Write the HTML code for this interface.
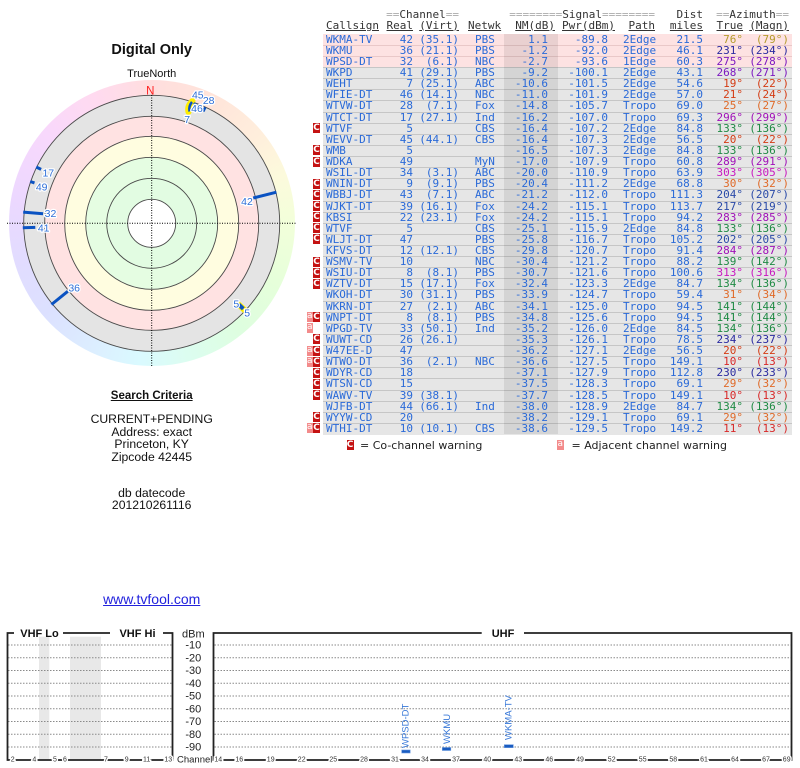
<!DOCTYPE html>
<html><head><meta charset="utf-8"><style>
*{box-sizing:border-box}
body{margin:0;width:800px;height:768px;position:relative;overflow:hidden;background:#fff;font-family:"Liberation Sans",Arial,sans-serif;color:#111}
.h{position:absolute;left:0;width:800px;height:11.12px;font:11px/11.12px "DejaVu Sans Mono",monospace;color:#333;white-space:pre}
.h span{position:absolute;top:0}
.h .q{color:#aaa;position:static}
.u span{text-decoration:underline}
.r{position:absolute;left:0;width:800px;height:11.12px;font:11px/11.12px "DejaVu Sans Mono",monospace;white-space:pre}
.r::before{content:"";position:absolute;left:323px;width:469px;top:0;height:100%;background:#e6e6e6;border-top:1px solid #c6c6c6}
.r.p::before{background:#fde2e2;border-top-color:#e9c8c8}
.r.f::before{border-top:0}
.r span{position:absolute;top:0;color:#2a6ad8;z-index:2}
.r span.z{color:inherit}
.k{left:326px}.re{right:387px}.v{right:341px}.n{left:475px}.nm{right:252px}.pw{right:192px}.pa{left:623px}.d{right:97px}.z1{right:57px}.z2{right:11px}
.r span.mc,.lg.mc{left:313px;top:.5px;width:7px;height:10px;background:#c41212;color:#fff;font:bold 9px/10px "DejaVu Sans",sans-serif;text-align:center}
.r span.ma,.lg.ma{left:306.5px;top:.5px;width:6.5px;height:10px;background:#f38b8b;color:#fff;font:9px/9px "DejaVu Sans",sans-serif;text-align:center}
.band{position:absolute;left:504px;top:33.7px;width:54px;height:400.4px;background:rgba(0,0,0,.08);z-index:1}
.o{color:#b49c2c}.nv{color:#2a2aa0}.bl{color:#2a4aa8}.pu{color:#7c18c0}.vi{color:#a010b8}.mg{color:#c818c0}.rd{color:#d82828}.ro{color:#d43c14}.or{color:#e06a28}.gr{color:#1f8a44}
.c{position:absolute;left:0;width:303.4px;text-align:center;white-space:nowrap}
.lg{position:absolute;display:block}
.lt{position:absolute;font:11px/11px "DejaVu Sans",sans-serif;color:#222;white-space:nowrap}
</style></head><body>

<!-- LEFT PANEL -->
<div class="c" style="top:42.9px;font:bold 14.5px/14.5px 'Liberation Sans',sans-serif">Digital Only</div>
<div class="c" style="top:68.8px;font:11px/11px 'Liberation Sans',sans-serif">TrueNorth</div>
<div style="position:absolute;left:8.7px;top:80.3px;width:286px;height:286px;border-radius:50%;background:conic-gradient(#ffdede 0deg,#ffe4da 25deg,#ffeedc 50deg,#fcfadc 70deg,#f2ffda 90deg,#e6ffda 115deg,#defedf 140deg,#dcfdf0 165deg,#dafaff 185deg,#dceeff 205deg,#dce0ff 230deg,#e2dcff 255deg,#ecd8ff 280deg,#f8d8fc 310deg,#ffdaf0 335deg,#ffdede 360deg)"></div>
<svg style="position:absolute;left:0;top:0" width="300" height="380" viewBox="0 0 300 380">
<g stroke="#4a4a4a" stroke-width="0.9">
<circle cx="151.7" cy="223.3" r="128" fill="#e4e4e4"/>
<circle cx="151.7" cy="223.3" r="107" fill="#ffe2e2"/>
<circle cx="151.7" cy="223.3" r="87" fill="#fffde0"/>
<circle cx="151.7" cy="223.3" r="66" fill="#e5fde2"/>
<circle cx="151.7" cy="223.3" r="45" fill="#e2fce2"/>
<circle cx="151.7" cy="223.3" r="24" fill="#fff"/>
</g>
<g stroke="#000" stroke-width="1" stroke-dasharray="1 1.5">
<line x1="7" y1="223.3" x2="296" y2="223.3"/>
<line x1="151.7" y1="95" x2="151.7" y2="367"/>
</g>
<text x="150.3" y="94.5" font-size="11.5" fill="#ff2020" text-anchor="middle" font-family="Liberation Sans">N</text>
<g stroke="#ffee00" stroke-width="6" stroke-linecap="round" fill="none">
<path d="M192.5,101 Q187,106 188.5,112"/>
<line x1="238.7" y1="304.5" x2="244.3" y2="309.8"/>
</g>
<g stroke="#0a52c2" stroke-width="3" fill="none">
<line x1="253.2" y1="198" x2="276.4" y2="192.2"/>
<line x1="67.8" y1="291.3" x2="51.5" y2="304.5"/>
<line x1="43.1" y1="213.8" x2="23.2" y2="212.1"/>
<line x1="35.3" y1="227.4" x2="22.8" y2="227.8"/>
<line x1="41.1" y1="169.4" x2="36.2" y2="167"/>
<line x1="34.5" y1="182.9" x2="30.2" y2="181.5"/>
<path d="M192,102 Q188.5,106 189.5,111.5" stroke-width="2.5"/>
<line x1="194.3" y1="104.9" x2="195.5" y2="103"/>
<line x1="194.6" y1="110" x2="196.6" y2="104.5" stroke-width="2"/>
<line x1="203.3" y1="111.5" x2="205.3" y2="107.3" stroke-width="2.5"/>
<line x1="238.7" y1="304.5" x2="243.3" y2="308.8" stroke-width="4"/>
</g>
<g font-family="Liberation Sans" font-size="10.5" fill="#2e6fd8" text-anchor="middle" stroke="#fff" stroke-width="2.5" paint-order="stroke" stroke-linejoin="round">
<text x="247" y="204.8">42</text>
<text x="74.2" y="291.3">36</text>
<text x="50.5" y="217.1">32</text>
<text x="43.7" y="231.3">41</text>
<text x="48.3" y="176.3">17</text>
<text x="41.7" y="190.3">49</text>
<text x="197.8" y="98.5">45</text>
<text x="208.7" y="103.8">28</text>
<text x="197" y="112.1">46</text>
<text x="187.2" y="123">7</text>
<text x="236.3" y="307.6">5</text>
<text x="247.2" y="316.6">5</text>
</g>
</svg>

<div class="c" style="top:391.4px;font:bold 11.5px/11.5px 'Liberation Sans',sans-serif;text-decoration:underline">Search Criteria</div>
<div class="c" style="top:413.4px;font:12.2px/12.4px 'Liberation Sans',sans-serif">CURRENT+PENDING<br>Address: exact<br>Princeton, KY<br>Zipcode 42445</div>
<div class="c" style="top:488px;font:12.2px/11.6px 'Liberation Sans',sans-serif">db datecode<br>201210261116</div>
<div class="c" style="top:591.6px;font:14px/14px 'Liberation Sans',sans-serif;color:#2222dd;text-decoration:underline">www.tvfool.com</div>

<!-- TABLE HEADER -->
<div class="h" style="top:9px"><span style="right:341px"><span class="q">==</span>Channel<span class="q">==</span></span><span style="right:145px"><span class="q">========</span>Signal<span class="q">========</span></span><span style="right:97px">Dist</span><span style="right:11px"><span class="q">==</span>Azimuth<span class="q">==</span></span></div>
<div class="h u" style="top:19.6px"><span style="left:326px">Callsign</span><span style="right:387px">Real</span><span style="right:341px">(Virt)</span><span style="left:468px">Netwk</span><span style="right:245px">NM(dB)</span><span style="right:185px">Pwr(dBm)</span><span style="right:145px">Path</span><span style="right:97px">miles</span><span style="right:57px">True</span><span style="right:11px">(Magn)</span></div>

<!-- ROWS -->
<div class="r p f o" style="top:33.7px"><span class="k">WKMA-TV</span><span class="re">42</span><span class="v">(35.1)</span><span class="n">PBS</span><span class="nm">1.1</span><span class="pw">-89.8</span><span class="pa">2Edge</span><span class="d">21.5</span><span class="z z1">76°</span><span class="z z2">(79°)</span></div>
<div class="r p nv" style="top:44.82px"><span class="k">WKMU</span><span class="re">36</span><span class="v">(21.1)</span><span class="n">PBS</span><span class="nm">-1.2</span><span class="pw">-92.0</span><span class="pa">2Edge</span><span class="d">46.1</span><span class="z z1">231°</span><span class="z z2">(234°)</span></div>
<div class="r p pu" style="top:55.94px"><span class="k">WPSD-DT</span><span class="re">32</span><span class="v">(6.1)</span><span class="n">NBC</span><span class="nm">-2.7</span><span class="pw">-93.6</span><span class="pa">1Edge</span><span class="d">60.3</span><span class="z z1">275°</span><span class="z z2">(278°)</span></div>
<div class="r pu" style="top:67.06px"><span class="k">WKPD</span><span class="re">41</span><span class="v">(29.1)</span><span class="n">PBS</span><span class="nm">-9.2</span><span class="pw">-100.1</span><span class="pa">2Edge</span><span class="d">43.1</span><span class="z z1">268°</span><span class="z z2">(271°)</span></div>
<div class="r ro" style="top:78.18px"><span class="k">WEHT</span><span class="re">7</span><span class="v">(25.1)</span><span class="n">ABC</span><span class="nm">-10.6</span><span class="pw">-101.5</span><span class="pa">2Edge</span><span class="d">54.6</span><span class="z z1">19°</span><span class="z z2">(22°)</span></div>
<div class="r ro" style="top:89.3px"><span class="k">WFIE-DT</span><span class="re">46</span><span class="v">(14.1)</span><span class="n">NBC</span><span class="nm">-11.0</span><span class="pw">-101.9</span><span class="pa">2Edge</span><span class="d">57.0</span><span class="z z1">21°</span><span class="z z2">(24°)</span></div>
<div class="r or" style="top:100.42px"><span class="k">WTVW-DT</span><span class="re">28</span><span class="v">(7.1)</span><span class="n">Fox</span><span class="nm">-14.8</span><span class="pw">-105.7</span><span class="pa">Tropo</span><span class="d">69.0</span><span class="z z1">25°</span><span class="z z2">(27°)</span></div>
<div class="r vi" style="top:111.54px"><span class="k">WTCT-DT</span><span class="re">17</span><span class="v">(27.1)</span><span class="n">Ind</span><span class="nm">-16.2</span><span class="pw">-107.0</span><span class="pa">Tropo</span><span class="d">69.3</span><span class="z z1">296°</span><span class="z z2">(299°)</span></div>
<div class="r gr" style="top:122.66px"><span class="mc">C</span><span class="k">WTVF</span><span class="re">5</span><span class="n">CBS</span><span class="nm">-16.4</span><span class="pw">-107.2</span><span class="pa">2Edge</span><span class="d">84.8</span><span class="z z1">133°</span><span class="z z2">(136°)</span></div>
<div class="r ro" style="top:133.78px"><span class="k">WEVV-DT</span><span class="re">45</span><span class="v">(44.1)</span><span class="n">CBS</span><span class="nm">-16.4</span><span class="pw">-107.3</span><span class="pa">2Edge</span><span class="d">56.5</span><span class="z z1">20°</span><span class="z z2">(22°)</span></div>
<div class="r gr" style="top:144.9px"><span class="mc">C</span><span class="k">WMB</span><span class="re">5</span><span class="nm">-16.5</span><span class="pw">-107.3</span><span class="pa">2Edge</span><span class="d">84.8</span><span class="z z1">133°</span><span class="z z2">(136°)</span></div>
<div class="r vi" style="top:156.02px"><span class="mc">C</span><span class="k">WDKA</span><span class="re">49</span><span class="n">MyN</span><span class="nm">-17.0</span><span class="pw">-107.9</span><span class="pa">Tropo</span><span class="d">60.8</span><span class="z z1">289°</span><span class="z z2">(291°)</span></div>
<div class="r mg" style="top:167.14px"><span class="k">WSIL-DT</span><span class="re">34</span><span class="v">(3.1)</span><span class="n">ABC</span><span class="nm">-20.0</span><span class="pw">-110.9</span><span class="pa">Tropo</span><span class="d">63.9</span><span class="z z1">303°</span><span class="z z2">(305°)</span></div>
<div class="r or" style="top:178.26px"><span class="mc">C</span><span class="k">WNIN-DT</span><span class="re">9</span><span class="v">(9.1)</span><span class="n">PBS</span><span class="nm">-20.4</span><span class="pw">-111.2</span><span class="pa">2Edge</span><span class="d">68.8</span><span class="z z1">30°</span><span class="z z2">(32°)</span></div>
<div class="r bl" style="top:189.38px"><span class="mc">C</span><span class="k">WBBJ-DT</span><span class="re">43</span><span class="v">(7.1)</span><span class="n">ABC</span><span class="nm">-21.2</span><span class="pw">-112.0</span><span class="pa">Tropo</span><span class="d">111.3</span><span class="z z1">204°</span><span class="z z2">(207°)</span></div>
<div class="r bl" style="top:200.5px"><span class="mc">C</span><span class="k">WJKT-DT</span><span class="re">39</span><span class="v">(16.1)</span><span class="n">Fox</span><span class="nm">-24.2</span><span class="pw">-115.1</span><span class="pa">Tropo</span><span class="d">113.7</span><span class="z z1">217°</span><span class="z z2">(219°)</span></div>
<div class="r vi" style="top:211.62px"><span class="mc">C</span><span class="k">KBSI</span><span class="re">22</span><span class="v">(23.1)</span><span class="n">Fox</span><span class="nm">-24.2</span><span class="pw">-115.1</span><span class="pa">Tropo</span><span class="d">94.2</span><span class="z z1">283°</span><span class="z z2">(285°)</span></div>
<div class="r gr" style="top:222.74px"><span class="mc">C</span><span class="k">WTVF</span><span class="re">5</span><span class="n">CBS</span><span class="nm">-25.1</span><span class="pw">-115.9</span><span class="pa">2Edge</span><span class="d">84.8</span><span class="z z1">133°</span><span class="z z2">(136°)</span></div>
<div class="r bl" style="top:233.86px"><span class="mc">C</span><span class="k">WLJT-DT</span><span class="re">47</span><span class="n">PBS</span><span class="nm">-25.8</span><span class="pw">-116.7</span><span class="pa">Tropo</span><span class="d">105.2</span><span class="z z1">202°</span><span class="z z2">(205°)</span></div>
<div class="r vi" style="top:244.98px"><span class="k">KFVS-DT</span><span class="re">12</span><span class="v">(12.1)</span><span class="n">CBS</span><span class="nm">-29.8</span><span class="pw">-120.7</span><span class="pa">Tropo</span><span class="d">91.4</span><span class="z z1">284°</span><span class="z z2">(287°)</span></div>
<div class="r gr" style="top:256.1px"><span class="mc">C</span><span class="k">WSMV-TV</span><span class="re">10</span><span class="n">NBC</span><span class="nm">-30.4</span><span class="pw">-121.2</span><span class="pa">Tropo</span><span class="d">88.2</span><span class="z z1">139°</span><span class="z z2">(142°)</span></div>
<div class="r mg" style="top:267.22px"><span class="mc">C</span><span class="k">WSIU-DT</span><span class="re">8</span><span class="v">(8.1)</span><span class="n">PBS</span><span class="nm">-30.7</span><span class="pw">-121.6</span><span class="pa">Tropo</span><span class="d">100.6</span><span class="z z1">313°</span><span class="z z2">(316°)</span></div>
<div class="r gr" style="top:278.34px"><span class="mc">C</span><span class="k">WZTV-DT</span><span class="re">15</span><span class="v">(17.1)</span><span class="n">Fox</span><span class="nm">-32.4</span><span class="pw">-123.3</span><span class="pa">2Edge</span><span class="d">84.7</span><span class="z z1">134°</span><span class="z z2">(136°)</span></div>
<div class="r or" style="top:289.46px"><span class="k">WKOH-DT</span><span class="re">30</span><span class="v">(31.1)</span><span class="n">PBS</span><span class="nm">-33.9</span><span class="pw">-124.7</span><span class="pa">Tropo</span><span class="d">59.4</span><span class="z z1">31°</span><span class="z z2">(34°)</span></div>
<div class="r gr" style="top:300.58px"><span class="k">WKRN-DT</span><span class="re">27</span><span class="v">(2.1)</span><span class="n">ABC</span><span class="nm">-34.1</span><span class="pw">-125.0</span><span class="pa">Tropo</span><span class="d">94.5</span><span class="z z1">141°</span><span class="z z2">(144°)</span></div>
<div class="r gr" style="top:311.7px"><span class="ma">a</span><span class="mc">C</span><span class="k">WNPT-DT</span><span class="re">8</span><span class="v">(8.1)</span><span class="n">PBS</span><span class="nm">-34.8</span><span class="pw">-125.6</span><span class="pa">Tropo</span><span class="d">94.5</span><span class="z z1">141°</span><span class="z z2">(144°)</span></div>
<div class="r gr" style="top:322.82px"><span class="ma">a</span><span class="k">WPGD-TV</span><span class="re">33</span><span class="v">(50.1)</span><span class="n">Ind</span><span class="nm">-35.2</span><span class="pw">-126.0</span><span class="pa">2Edge</span><span class="d">84.5</span><span class="z z1">134°</span><span class="z z2">(136°)</span></div>
<div class="r nv" style="top:333.94px"><span class="mc">C</span><span class="k">WUWT-CD</span><span class="re">26</span><span class="v">(26.1)</span><span class="nm">-35.3</span><span class="pw">-126.1</span><span class="pa">Tropo</span><span class="d">78.5</span><span class="z z1">234°</span><span class="z z2">(237°)</span></div>
<div class="r ro" style="top:345.06px"><span class="ma">a</span><span class="mc">C</span><span class="k">W47EE-D</span><span class="re">47</span><span class="nm">-36.2</span><span class="pw">-127.1</span><span class="pa">2Edge</span><span class="d">56.5</span><span class="z z1">20°</span><span class="z z2">(22°)</span></div>
<div class="r rd" style="top:356.18px"><span class="ma">a</span><span class="mc">C</span><span class="k">WTWO-DT</span><span class="re">36</span><span class="v">(2.1)</span><span class="n">NBC</span><span class="nm">-36.6</span><span class="pw">-127.5</span><span class="pa">Tropo</span><span class="d">149.1</span><span class="z z1">10°</span><span class="z z2">(13°)</span></div>
<div class="r nv" style="top:367.3px"><span class="mc">C</span><span class="k">WDYR-CD</span><span class="re">18</span><span class="nm">-37.1</span><span class="pw">-127.9</span><span class="pa">Tropo</span><span class="d">112.8</span><span class="z z1">230°</span><span class="z z2">(233°)</span></div>
<div class="r or" style="top:378.42px"><span class="mc">C</span><span class="k">WTSN-CD</span><span class="re">15</span><span class="nm">-37.5</span><span class="pw">-128.3</span><span class="pa">Tropo</span><span class="d">69.1</span><span class="z z1">29°</span><span class="z z2">(32°)</span></div>
<div class="r rd" style="top:389.54px"><span class="mc">C</span><span class="k">WAWV-TV</span><span class="re">39</span><span class="v">(38.1)</span><span class="nm">-37.7</span><span class="pw">-128.5</span><span class="pa">Tropo</span><span class="d">149.1</span><span class="z z1">10°</span><span class="z z2">(13°)</span></div>
<div class="r gr" style="top:400.66px"><span class="k">WJFB-DT</span><span class="re">44</span><span class="v">(66.1)</span><span class="n">Ind</span><span class="nm">-38.0</span><span class="pw">-128.9</span><span class="pa">2Edge</span><span class="d">84.7</span><span class="z z1">134°</span><span class="z z2">(136°)</span></div>
<div class="r or" style="top:411.78px"><span class="mc">C</span><span class="k">WYYW-CD</span><span class="re">20</span><span class="nm">-38.2</span><span class="pw">-129.1</span><span class="pa">Tropo</span><span class="d">69.1</span><span class="z z1">29°</span><span class="z z2">(32°)</span></div>
<div class="r rd" style="top:422.9px"><span class="ma">a</span><span class="mc">C</span><span class="k">WTHI-DT</span><span class="re">10</span><span class="v">(10.1)</span><span class="n">CBS</span><span class="nm">-38.6</span><span class="pw">-129.5</span><span class="pa">Tropo</span><span class="d">149.2</span><span class="z z1">11°</span><span class="z z2">(13°)</span></div>
<div class="band"></div>

<!-- LEGEND -->
<span class="lg mc" style="left:346.5px;top:440px">C</span>
<div class="lt" style="left:360px;top:439.5px">= Co-channel warning</div>
<span class="lg ma" style="left:557px;top:440px">a</span>
<div class="lt" style="left:571.5px;top:439.5px">= Adjacent channel warning</div>

<!-- BOTTOM CHART -->
<svg style="position:absolute;left:0;top:620px" width="800" height="148" viewBox="0 620 800 148">
<rect x="39" y="636.7" width="10.3" height="123.3" fill="#e8e8e8"/>
<rect x="70" y="636.7" width="31" height="123.3" fill="#e8e8e8"/>
<g stroke="#8a8a8a" stroke-width="1" stroke-dasharray="1.5 1.5">
<path d="M8,645H172M8,657.75H172M8,670.5H172M8,683.25H172M8,696H172M8,708.75H172M8,721.5H172M8,734.25H172M8,747H172"/>
<path d="M214.5,645H791M214.5,657.75H791M214.5,670.5H791M214.5,683.25H791M214.5,696H791M214.5,708.75H791M214.5,721.5H791M214.5,734.25H791M214.5,747H791"/>
</g>
<g fill="none" stroke="#222" stroke-width="1.8">
<path d="M14,633H7.5V760H172.5V633H163M63,633H110"/>
<path d="M481.7,633H213.5V760H791.5V633H524"/>
</g>
<g font-family="Liberation Sans" font-weight="bold" font-size="11" fill="#111" text-anchor="middle">
<text x="39.5" y="637">VHF Lo</text>
<text x="137.5" y="637">VHF Hi</text>
<text x="503" y="637">UHF</text>
</g>
<g font-family="Liberation Sans" font-size="11" fill="#222" text-anchor="middle">
<text x="193.3" y="637.3">dBm</text>
<text x="193.3" y="648.6">-10</text>
<text x="193.3" y="661.3">-20</text>
<text x="193.3" y="674.1">-30</text>
<text x="193.3" y="686.8">-40</text>
<text x="193.3" y="699.6">-50</text>
<text x="193.3" y="712.3">-60</text>
<text x="193.3" y="725.1">-70</text>
<text x="193.3" y="737.8">-80</text>
<text x="193.3" y="750.6">-90</text>
</g>
<text x="194.7" y="762.3" font-family="Liberation Sans" font-size="9.5" fill="#222" text-anchor="middle">Channel</text>
<g font-family="Liberation Sans" font-size="7" fill="#333" text-anchor="middle" stroke="#fff" stroke-width="3" paint-order="stroke">
<text x="12.7" y="761.5">2</text><text x="34.3" y="761.5">4</text><text x="55" y="761.5">5</text><text x="65" y="761.5">6</text><text x="106" y="761.5">7</text><text x="126.7" y="761.5">9</text><text x="146.7" y="761.5">11</text><text x="168.3" y="761.5">13</text>
<text x="218.3" y="761.5">14</text><text x="239.3" y="761.5">16</text><text x="270.7" y="761.5">19</text><text x="301.7" y="761.5">22</text><text x="333.3" y="761.5">25</text><text x="364" y="761.5">28</text><text x="395" y="761.5">31</text><text x="425" y="761.5">34</text><text x="456" y="761.5">37</text><text x="487.3" y="761.5">40</text><text x="518.3" y="761.5">43</text><text x="549.3" y="761.5">46</text><text x="580" y="761.5">49</text><text x="611.7" y="761.5">52</text><text x="642.7" y="761.5">55</text><text x="673.3" y="761.5">58</text><text x="704" y="761.5">61</text><text x="735" y="761.5">64</text><text x="766" y="761.5">67</text><text x="786.7" y="761.5">69</text>
</g>
<g fill="#1a5cc0" stroke="#6a9ae0" stroke-width="0.6">
<rect x="401.7" y="750" width="8.5" height="3"/>
<rect x="442.3" y="747.5" width="8.5" height="3"/>
<rect x="504.3" y="744.7" width="9" height="3"/>
</g>
<g font-family="Liberation Sans" font-size="9.5" fill="#3878d8">
<text transform="translate(408.5,748) rotate(-90)">WPSD-DT</text>
<text transform="translate(450,744) rotate(-90)">WKMU</text>
<text transform="translate(511.5,740) rotate(-90)">WKMA-TV</text>
</g>
</svg>
</body></html>
